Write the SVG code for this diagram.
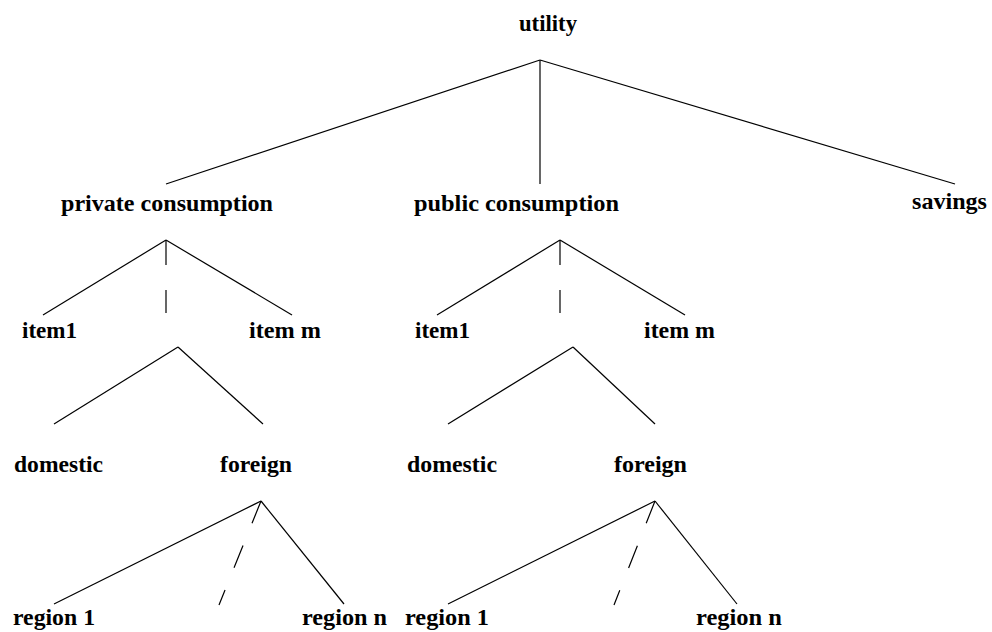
<svg xmlns="http://www.w3.org/2000/svg" width="992" height="632" viewBox="0 0 992 632">
<style>
text{font-family:"Liberation Serif","Times New Roman",serif;font-weight:bold;font-size:24px;fill:#000}
line{stroke:#000;stroke-width:1.2;fill:none}
.dash{stroke-dasharray:24 24}
</style>
<rect width="992" height="632" fill="#fff"/>
<g id="connectors">
<line x1="540" y1="60" x2="166" y2="184"/>
<line x1="540" y1="60" x2="540" y2="184"/>
<line x1="540" y1="60" x2="955" y2="184"/>
<line x1="166" y1="240" x2="43" y2="315"/>
<line x1="166" y1="240" x2="292" y2="315"/>
<line x1="166" y1="240" x2="166" y2="265"/>
<line x1="166" y1="290" x2="166" y2="313"/>
<line x1="560" y1="240" x2="437" y2="315"/>
<line x1="560" y1="240" x2="685" y2="315"/>
<line x1="560" y1="240" x2="560" y2="265"/>
<line x1="560" y1="290" x2="560" y2="313"/>
<line x1="178" y1="347" x2="54" y2="424"/>
<line x1="178" y1="347" x2="263" y2="424"/>
<line x1="573" y1="347" x2="448" y2="424"/>
<line x1="573" y1="347" x2="655" y2="424"/>
<line x1="261" y1="501" x2="54" y2="604"/>
<line x1="261" y1="501" x2="344" y2="604"/>
<line class="dash" x1="261" y1="501" x2="219" y2="605"/>
<line x1="655" y1="501" x2="448" y2="604"/>
<line x1="655" y1="501" x2="737" y2="604"/>
<line class="dash" x1="655" y1="501" x2="614" y2="605"/>
</g>
<g id="utility"><text x="519" y="31" textLength="58" lengthAdjust="spacingAndGlyphs">utility</text></g>
<g id="private"><text x="61" y="211" textLength="212" lengthAdjust="spacingAndGlyphs">private consumption</text></g>
<g id="public"><text x="414" y="211" textLength="205" lengthAdjust="spacingAndGlyphs">public consumption</text></g>
<g id="savings"><text x="912" y="209" textLength="75" lengthAdjust="spacingAndGlyphs">savings</text></g>
<g id="priv-item1"><text x="22" y="338" textLength="55" lengthAdjust="spacingAndGlyphs">item1</text></g>
<g id="priv-itemm"><text x="249" y="338" textLength="72" lengthAdjust="spacingAndGlyphs">item m</text></g>
<g id="pub-item1"><text x="415" y="338" textLength="55" lengthAdjust="spacingAndGlyphs">item1</text></g>
<g id="pub-itemm"><text x="644" y="338" textLength="71" lengthAdjust="spacingAndGlyphs">item m</text></g>
<g id="priv-domestic"><text x="14" y="472" textLength="89" lengthAdjust="spacingAndGlyphs">domestic</text></g>
<g id="priv-foreign"><text x="220" y="472" textLength="72" lengthAdjust="spacingAndGlyphs">foreign</text></g>
<g id="pub-domestic"><text x="407" y="472" textLength="90" lengthAdjust="spacingAndGlyphs">domestic</text></g>
<g id="pub-foreign"><text x="614" y="472" textLength="73" lengthAdjust="spacingAndGlyphs">foreign</text></g>
<g id="priv-region1"><text x="13" y="625" textLength="82" lengthAdjust="spacingAndGlyphs">region 1</text></g>
<g id="priv-regionn"><text x="302" y="625" textLength="85" lengthAdjust="spacingAndGlyphs">region n</text></g>
<g id="pub-region1"><text x="405" y="625" textLength="84" lengthAdjust="spacingAndGlyphs">region 1</text></g>
<g id="pub-regionn"><text x="696" y="625" textLength="86" lengthAdjust="spacingAndGlyphs">region n</text></g>
</svg>
